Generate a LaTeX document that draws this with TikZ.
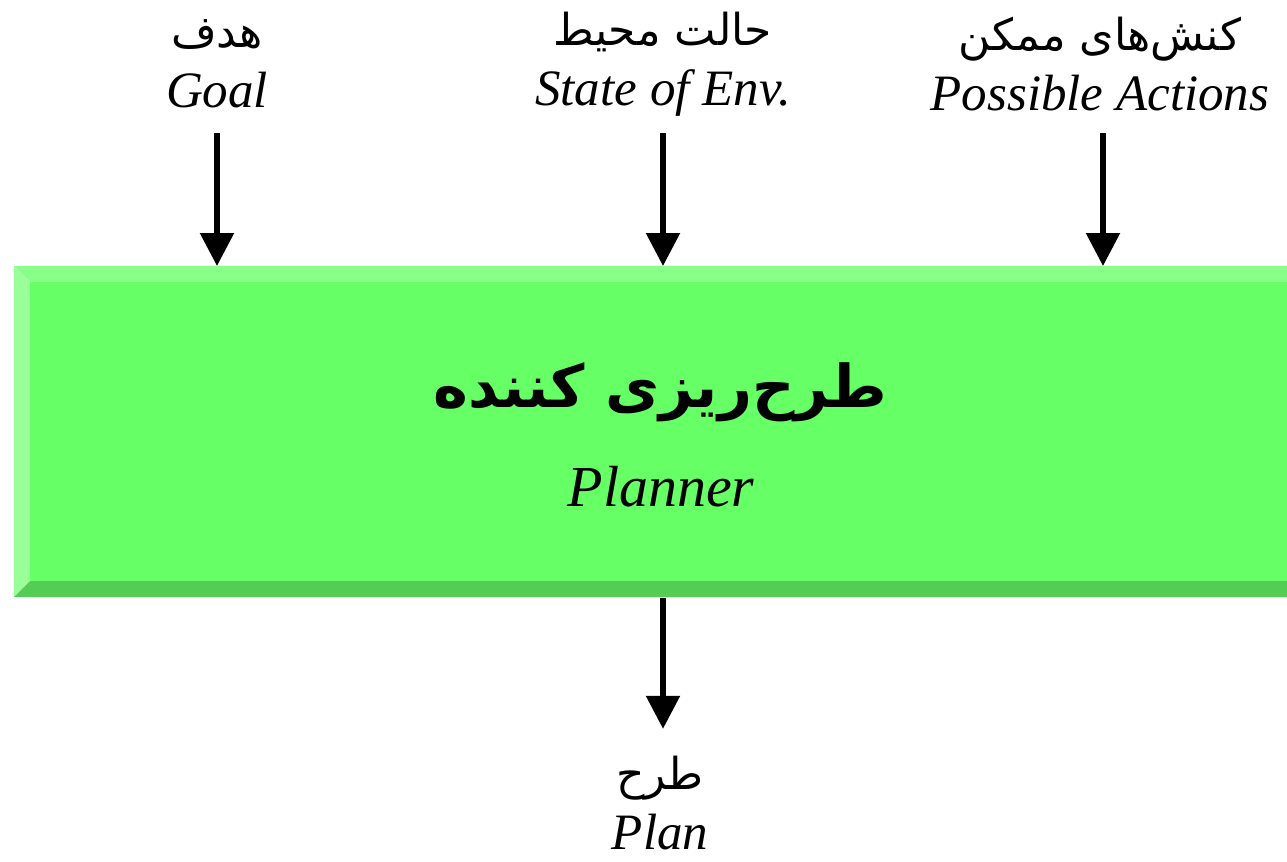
\documentclass[tikz,border=0pt]{standalone}
\usepackage{fontspec}
\setmainfont{Liberation Serif}
\newfontfamily\arabicfont[Script=Arabic]{DejaVu Sans}
\TeXXeTstate=1
\usetikzlibrary{arrows.meta}
\definecolor{face}{HTML}{66FF66}
\definecolor{bevtop}{HTML}{88FF88}
\definecolor{bevleft}{HTML}{99FF99}
\definecolor{bevbot}{HTML}{55CC55}
\tikzset{
  flow/.style={line width=2.75pt,-{Triangle[length=16.5pt,width=16.5pt]}},
  lbl/.style={align=center,font=\fontsize{25.5}{30}\selectfont,inner sep=0pt},
}
\newcommand{\fa}[1]{{\arabicfont\beginR #1\endR}}
\newcommand{\fas}[1]{{\fontsize{22}{30}\selectfont\arabicfont\beginR #1\endR}}
\begin{document}
\begin{tikzpicture}[x=0.5pt,y=-0.5pt]
\useasboundingbox (0,0) rectangle (1287,862);
% bevelled planner block
\node[inner sep=0pt,minimum width=636.5pt,minimum height=165.5pt,anchor=north west] (planner) at (14,266) {};
\fill[face] (30,282) rectangle (1287,581);
\fill[bevtop] (14,266) -- (1287,266) -- (1287,282) -- (30,282) -- cycle;
\fill[bevleft] (14,266) -- (30,282) -- (30,581) -- (14,597) -- cycle;
\fill[bevbot] (14,597) -- (30,581) -- (1287,581) -- (1287,597) -- cycle;
\node[inner sep=0pt,font=\fontsize{29.5}{29.5}\selectfont\bfseries] (title) at (660,392) {\fa{طرح‌ریزی کننده}};
\node[inner sep=0pt,font=\fontsize{29}{29}\selectfont\itshape] (titleen) at (661,487) {Planner};
% inputs
\node[lbl] (goal) at (217,64) {\fas{هدف}\\\itshape Goal};
\node[lbl] (state) at (663,64) {\fas{حالت محیط}\\\itshape State of Env.};
\node[lbl] (acts) at (1100,64) {\fas{کنش‌های ممکن}\\\itshape Possible Actions};
\coordinate (g0) at (217,133);
\coordinate (s0) at (663,133);
\coordinate (a0) at (1103,133);
\draw[flow] (g0) -- (g0 |- planner.north);
\draw[flow] (s0) -- (s0 |- planner.north);
\draw[flow] (a0) -- (a0 |- planner.north);
% output
\node[lbl] (plan) at (660,803) {\fas{طرح}\\\itshape Plan};
\draw[flow] (planner.south -| s0) -- ++(0,131);
\end{tikzpicture}
\end{document}
